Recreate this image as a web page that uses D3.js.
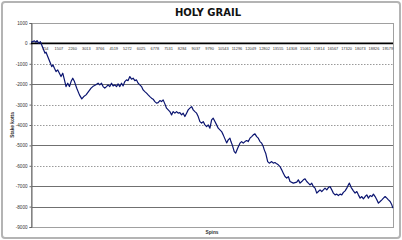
<!DOCTYPE html>
<html>
<head>
<meta charset="utf-8">
<script src="https://cdn.jsdelivr.net/npm/d3@7"></script>
<style>
  html, body { margin: 0; padding: 0; background: #fff; }
  svg { display: block; }
  text { font-family: 'Liberation Sans', Arial, sans-serif; }
</style>
</head>
<body>
<svg id="chart" width="402" height="240"></svg>
<script>
// spin number and bank balance
const spins = [0, 187, 275, 330, 424, 517, 589, 699, 771, 826, 958, 1068, 1139, 1211, 1288, 1376, 1470, 1651, 1745, 1838,
  1926, 2020, 2114, 2202, 2295, 2389, 2515, 2664, 2791, 2901, 3027, 3159, 3302, 3396, 3490, 3589, 3688, 3781, 3875, 3963,
  4056, 4150, 4238, 4331, 4425, 4513, 4607, 4700, 4788, 4882, 4976, 5064, 5157, 5251, 5339, 5433, 5526, 5614, 5708, 5801,
  5889, 5983, 6076, 6164, 6258, 6352, 6440, 6533, 6627, 6715, 6808, 6902, 6990, 7084, 7177, 7265, 7359, 7452, 7634, 7728,
  7816, 7909, 8003, 8091, 8184, 8278, 8366, 8459, 8553, 8641, 8734, 8829, 8917, 9010, 9104, 9192, 9285, 9379, 9467, 9560,
  9654, 9742, 9836, 9929, 10017, 10111, 10204, 10292, 10386, 10479, 10567, 10661, 10755, 10843, 10936, 10991, 11063, 11173, 11250, 11360,
  11487, 11580, 11668, 11762, 11856, 11944, 12037, 12131, 12219, 12312, 12406, 12494, 12588, 12681, 12769, 12824, 12901, 13011, 13100, 13232,
  13320, 13413, 13507, 13595, 13688, 13782, 13870, 13964, 14057, 14145, 14239, 14420, 14608, 14696, 14789, 14883, 14971, 15064, 15158, 15246,
  15340, 15433, 15521, 15615, 15708, 15796, 15890, 15983, 16071, 16165, 16259, 16347, 16440, 16534, 16622, 16716, 16809, 16897, 16991, 17084,
  17172, 17266, 17360, 17448, 17503, 17597, 17723, 17816, 17910, 17998, 18092, 18185, 18273, 18367, 18460, 18548, 18642, 18736, 18824, 18917,
  19011, 19099, 19192, 19286, 19374, 19467, 19561, 19649, 19743, 19836, 19891];
const balance = [59, 123, 59, 137, 10, 88, -74, -319, -480, -431, -725, -970, -1137, -1054, -1215, -1382, -1299, -1627, -1460, -1789,
  -2117, -1950, -2117, -1872, -1705, -1872, -2195, -2524, -2720, -2607, -2524, -2362, -2195, -2117, -2068, -2009, -1950, -2034, -1950, -2117,
  -2195, -2117, -2034, -2117, -1950, -2083, -2034, -2117, -1985, -2117, -1950, -2083, -1872, -1789, -1823, -1627, -1754, -1705, -1823, -1789,
  -1950, -2034, -2117, -2279, -2362, -2440, -2524, -2607, -2685, -2734, -2852, -2930, -2901, -2803, -2852, -2769, -2965, -3175, -3342, -3504,
  -3342, -3420, -3342, -3420, -3391, -3504, -3420, -3587, -3420, -3259, -3175, -3097, -3259, -3342, -3420, -3587, -3832, -3910, -3832, -3994,
  -4077, -3994, -4155, -3749, -3665, -3832, -3994, -4155, -4239, -4322, -4484, -4680, -4876, -4729, -4645, -4812, -4974, -5302, -5380, -5135,
  -4890, -4812, -4890, -4812, -4763, -4812, -4645, -4567, -4484, -4435, -4567, -4645, -4812, -4890, -5057, -5219, -5380, -5792, -5870, -5792,
  -5870, -5841, -5905, -5954, -6037, -6199, -6360, -6527, -6605, -6527, -6772, -6850, -6801, -6689, -6850, -6772, -6689, -6640, -6772, -6850,
  -6934, -6850, -7017, -7095, -7340, -7262, -7179, -7262, -7179, -7095, -7179, -7066, -7017, -7179, -7340, -7424, -7389, -7458, -7389, -7424,
  -7301, -7228, -7095, -6934, -6850, -7056, -7228, -7340, -7262, -7424, -7585, -7507, -7620, -7507, -7424, -7585, -7458, -7507, -7389, -7507,
  -7669, -7830, -7752, -7669, -7585, -7507, -7585, -7669, -7752, -7914, -8075];

const xTicks = [754, 1507, 2260, 3013, 3766, 4519, 5272, 6025, 6778, 7531, 8284, 9037, 9790, 10543, 11296,
  12049, 12802, 13555, 14308, 15061, 15814, 16567, 17320, 18073, 18826, 19579];
const yTicks = [1000, 0, -1000, -2000, -3000, -4000, -5000, -6000, -7000, -8000, -9000];
const dottedGrid = [1000, -1000, -3000, -4000, -6000];

const svg = d3.select('#chart');
const W = 402, H = 240;
const plot = { left: 31, right: 393, top: 23, bottom: 227 };

// outer chart frame
svg.append('rect')
  .attr('x', 2).attr('y', 2).attr('width', W - 4).attr('height', H - 4)
  .attr('rx', 3)
  .attr('fill', '#fff')
  .attr('stroke', '#b4b4b4')
  .attr('stroke-width', 2);

const x = d3.scaleLinear().domain([0, 19900]).range([plot.left, plot.right]);
const y = d3.scaleLinear().domain([-9000, 1000]).range([plot.bottom, plot.top]);

// grid lines
svg.append('g')
  .selectAll('line')
  .data(yTicks.filter((d) => d !== 0 && d !== -9000))
  .join('line')
  .attr('x1', plot.left).attr('x2', plot.right)
  .attr('y1', (d) => Math.round(y(d)) + 0.5).attr('y2', (d) => Math.round(y(d)) + 0.5)
  .attr('stroke', (d) => (dottedGrid.includes(d) ? '#9a9a9a' : '#707070'))
  .attr('stroke-width', 1)
  .attr('stroke-dasharray', (d) => (dottedGrid.includes(d) ? '1.5,1.5' : null));

// plot frame
svg.append('rect')
  .attr('x', plot.left + 0.5).attr('y', Math.round(y(1000)) + 0.5)
  .attr('width', plot.right - plot.left)
  .attr('height', Math.round(y(-9000)) - Math.round(y(1000)))
  .attr('fill', 'none')
  .attr('stroke', '#a0a0a0')
  .attr('stroke-width', 1);

// y axis
const yAxis = d3.axisLeft(y).tickValues(yTicks).tickSize(2).tickPadding(2)
  .tickFormat((d) => String(d));
const gy = svg.append('g')
  .attr('transform', 'translate(' + (plot.left + 0.5) + ',0)')
  .call(yAxis);
gy.select('.domain').attr('stroke', '#666');
gy.selectAll('.tick line').attr('stroke', '#666');
gy.selectAll('text').attr('font-size', 4.6).attr('fill', '#333');

// x axis sits on the zero line
const xAxis = d3.axisBottom(x).tickValues(xTicks).tickSize(0).tickPadding(4)
  .tickFormat((d) => String(d));
const gx = svg.append('g')
  .attr('transform', 'translate(0,' + y(0) + ')')
  .call(xAxis);
gx.select('.domain').remove();
gx.selectAll('text').attr('font-size', 3.9).attr('fill', '#333');

svg.append('line')
  .attr('x1', plot.left).attr('x2', plot.right)
  .attr('y1', y(0)).attr('y2', y(0))
  .attr('stroke', '#000')
  .attr('stroke-width', 1.8);

// the series
const line = d3.line()
  .x((d, i) => x(spins[i]))
  .y((d) => y(d));

svg.append('path')
  .datum(balance)
  .attr('d', line)
  .attr('fill', 'none')
  .attr('stroke', '#0a1470')
  .attr('stroke-width', 1.2)
  .attr('stroke-linejoin', 'round');

// titles
svg.append('text')
  .attr('x', 208).attr('y', 16)
  .attr('text-anchor', 'middle')
  .style('font-family', "'DejaVu Sans', Verdana, sans-serif")
  .attr('font-weight', 'bold')
  .attr('font-size', 10)
  .attr('fill', '#111')
  .text('HOLY GRAIL');

svg.append('text')
  .attr('x', 212).attr('y', 234)
  .attr('text-anchor', 'middle')
  .attr('font-size', 4.8)
  .attr('font-weight', 'bold')
  .attr('fill', '#333')
  .text('Spins');

svg.append('text')
  .attr('transform', 'translate(14,' + (plot.top + plot.bottom) / 2 + ') rotate(-90)')
  .attr('text-anchor', 'middle')
  .attr('font-size', 4.8)
  .attr('font-weight', 'bold')
  .attr('fill', '#333')
  .text('Stake kotta');
</script>
</body>
</html>
